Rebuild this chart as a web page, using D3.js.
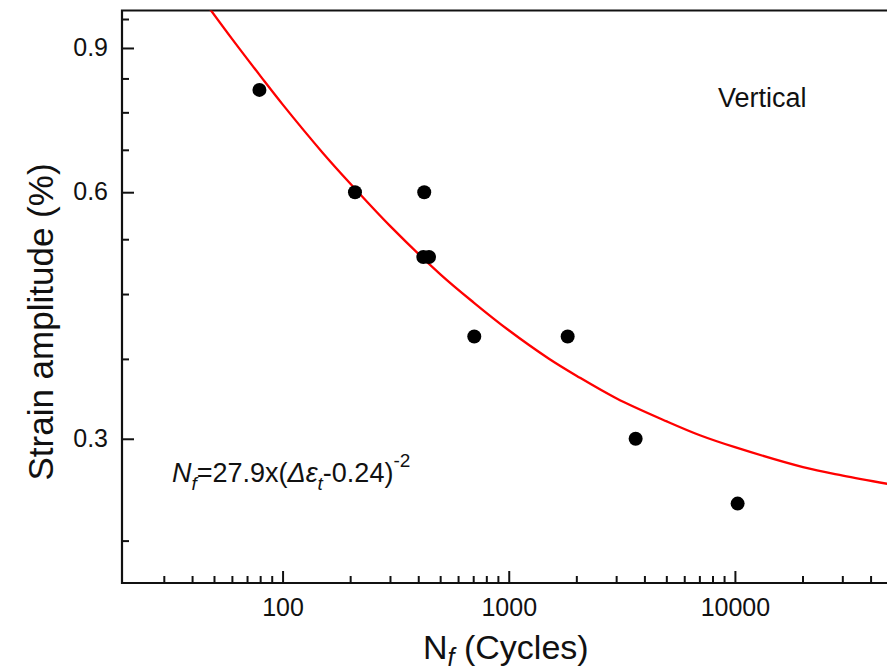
<!DOCTYPE html>
<html>
<head>
<meta charset="utf-8">
<script src="https://cdn.jsdelivr.net/npm/d3@7"></script>
<style>
  html, body { margin: 0; padding: 0; background: #fff; overflow: hidden; }
  svg { display: block; }
</style>
</head>
<body>
<div id="chart"></div>
<script>
// ── Data ────────────────────────────────────────────────────────────────────
// Measured fatigue life (cycles) and strain amplitude (%)
const pointsNf     = [79, 209, 423, 419, 444, 704, 1822, 3640, 10280];
const pointsStrain = [0.80, 0.60, 0.60, 0.50, 0.50, 0.40, 0.40, 0.30, 0.25];

// Fitted curve
const fitNf     = [47, 60, 80, 100, 150, 200, 300, 500, 700, 1000, 1500, 2000, 3000, 5000, 7000, 10000, 20000, 30000, 50000];
const fitStrain = [1.010, 0.922, 0.831, 0.768, 0.671, 0.614, 0.545, 0.476, 0.440, 0.407, 0.376, 0.358, 0.336, 0.315, 0.303, 0.293, 0.277, 0.2705, 0.2636];

const xMajor = [100, 1000, 10000];
const xMinor = [30, 40, 50, 60, 70, 80, 90,
                200, 300, 400, 500, 600, 700, 800, 900,
                2000, 3000, 4000, 5000, 6000, 7000, 8000, 9000,
                20000, 30000, 40000];
const yMajor = [0.3, 0.6, 0.9];
const yMinor = [0.225, 0.375, 0.45, 0.525, 0.675, 0.75, 0.825, 0.975];

// ── Layout ──────────────────────────────────────────────────────────────────
const W = 887, H = 672;
const plot = { left: 122, top: 10.5, right: 893, bottom: 583 };
const font = "'Liberation Sans', Arial, Helvetica, sans-serif";
const ink = '#111';

const x = d3.scaleLog().domain([19.5, 50000]).range([plot.left, plot.right]);
const y = d3.scaleLog().domain([0.2, 1.0]).range([plot.bottom, plot.top]);

const svg = d3.select('#chart')
  .append('svg')
  .attr('width', W)
  .attr('height', H)
  .style('font-family', font);

svg.append('defs').append('clipPath').attr('id', 'plot-clip')
  .append('rect')
  .attr('x', plot.left).attr('y', plot.top)
  .attr('width', plot.right - plot.left).attr('height', plot.bottom - plot.top);

// ── Axes (ticks point inward) ───────────────────────────────────────────────
const xAxis = svg.append('g')
  .attr('transform', `translate(0,${plot.bottom})`)
  .call(d3.axisBottom(x).tickValues(xMajor).tickSizeInner(-12).tickSizeOuter(0).tickPadding(28).tickFormat(d3.format('d')));
xAxis.append('g').selectAll('line')
  .data(xMinor)
  .join('line')
  .attr('x1', d => x(d)).attr('x2', d => x(d))
  .attr('y1', 0).attr('y2', -7);

const yAxis = svg.append('g')
  .attr('transform', `translate(${plot.left},0)`)
  .call(d3.axisLeft(y).tickValues(yMajor).tickSizeInner(-12).tickSizeOuter(0).tickPadding(14).tickFormat(d3.format('.1f')));
yAxis.append('g').selectAll('line')
  .data(yMinor)
  .join('line')
  .attr('y1', d => y(d)).attr('y2', d => y(d))
  .attr('x1', 0).attr('x2', 7);

for (const ax of [xAxis, yAxis]) {
  ax.select('.domain').remove();
  ax.selectAll('line').attr('stroke', ink).attr('stroke-width', 2);
  ax.selectAll('text')
    .attr('fill', ink)
    .attr('font-size', '25px')
    .attr('font-family', font);
}
xAxis.selectAll('.tick text').attr('dy', '0.2em');
yAxis.selectAll('.tick text').attr('dy', '0.3em');

// Frame: left, bottom, top lines (right side runs off the page)
svg.append('path')
  .attr('d', `M${plot.right},${plot.top}H${plot.left}V${plot.bottom}H${plot.right}`)
  .attr('fill', 'none')
  .attr('stroke', ink)
  .attr('stroke-width', 2.2);

// ── Fit curve ───────────────────────────────────────────────────────────────
const line = d3.line()
  .x((d, i) => x(fitNf[i]))
  .y(d => y(d))
  .curve(d3.curveCatmullRom.alpha(0.5));

svg.append('path')
  .attr('clip-path', 'url(#plot-clip)')
  .attr('d', line(fitStrain))
  .attr('fill', 'none')
  .attr('stroke', '#ff0000')
  .attr('stroke-width', 2.3);

// ── Data points ─────────────────────────────────────────────────────────────
svg.append('g').selectAll('circle')
  .data(pointsNf)
  .join('circle')
  .attr('cx', d => x(d))
  .attr('cy', (d, i) => y(pointsStrain[i]))
  .attr('r', 7)
  .attr('fill', '#000');

// ── Labels ──────────────────────────────────────────────────────────────────
svg.append('text')
  .attr('x', 718)
  .attr('y', 107)
  .attr('font-size', '27px')
  .attr('fill', ink)
  .text('Vertical');

const eq = svg.append('text')
  .attr('x', 172)
  .attr('y', 482)
  .attr('font-size', '27px')
  .attr('fill', ink);
eq.append('tspan').attr('font-style', 'italic').text('N');
eq.append('tspan').attr('font-style', 'italic').attr('font-size', '19px').attr('dy', 8).text('f');
eq.append('tspan').attr('dy', -8).text('=27.9x(');
eq.append('tspan').attr('font-style', 'italic').text('\u0394\u03b5');
eq.append('tspan').attr('font-style', 'italic').attr('font-size', '19px').attr('dy', 8).text('t');
eq.append('tspan').attr('dy', -8).text('-0.24)');
eq.append('tspan').attr('font-size', '19px').attr('dy', -15).text('-2');

const xt = svg.append('text')
  .attr('x', 423)
  .attr('y', 659)
  .attr('font-size', '34px')
  .attr('fill', ink);
xt.append('tspan').text('N');
xt.append('tspan').attr('font-style', 'italic').attr('font-size', '25px').attr('dy', 7).text('f');
xt.append('tspan').attr('dy', -7).text('\u00a0(Cycles)');

svg.append('text')
  .attr('transform', 'translate(53,322) rotate(-90)')
  .attr('text-anchor', 'middle')
  .attr('font-size', '35px')
  .attr('fill', ink)
  .text('Strain amplitude (%)');
</script>
</body>
</html>
